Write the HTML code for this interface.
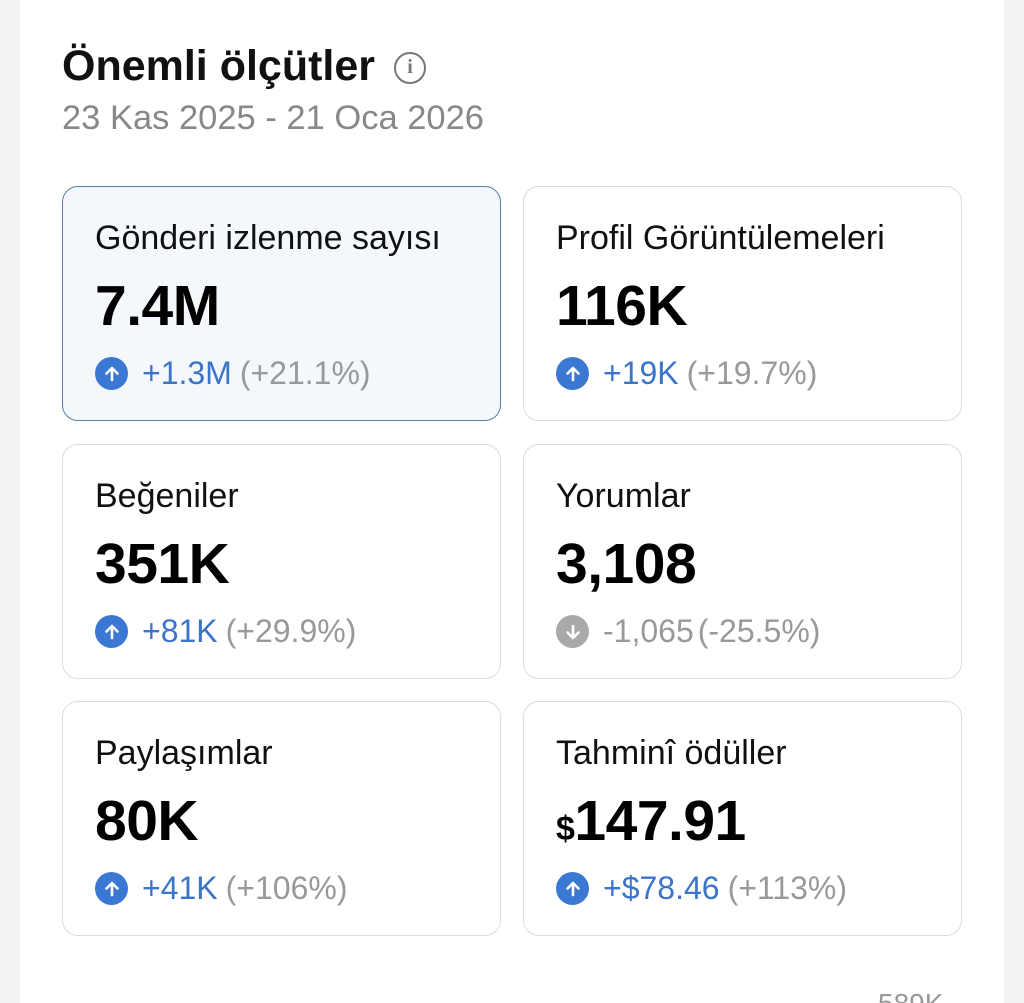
<!DOCTYPE html>
<html><head><meta charset="utf-8"><style>
*{margin:0;padding:0;box-sizing:border-box}
html,body{width:1024px;height:1003px;overflow:hidden}
body{background:#f2f2f2;font-family:"Liberation Sans",sans-serif;position:relative}
.panel{position:absolute;left:20px;top:0;width:984px;height:1003px;background:#fff}
.t{position:absolute;white-space:nowrap}
.card{position:absolute;width:439px;height:235px;border:1.5px solid #dcdcdc;border-radius:16px;background:#fff}
.card.sel{background:#f4f8fd;border-color:#5b7ea3}
.lab{position:absolute;left:32px;top:32px;font-size:34px;color:#111}
.val{position:absolute;left:32px;top:86px;font-size:57px;font-weight:bold;color:#000;letter-spacing:-0.5px}
.dl{position:absolute;left:32px;top:168px;font-size:32px;color:#3b74c9;display:flex;align-items:center}
.ic{width:33px;height:33px;border-radius:50%;background:#3a78d4;margin-right:14px;display:flex;align-items:center;justify-content:center}
.ic.g{background:#a9a9a9}
.dl .p{color:#999;margin-left:8px}
.dl.gr{color:#999}
</style></head><body>
<div class="panel"></div>
<div class="t" style="left:62px;top:42px;font-size:43px;font-weight:bold;color:#111">Önemli ölçütler</div>
<div class="t" style="left:394px;top:52px;width:32px;height:32px;border:2.5px solid #777;border-radius:50%;color:#777;font-size:20px;font-weight:bold;text-align:center;line-height:27px;font-family:'Liberation Serif',serif">i</div>
<div class="t" style="left:62px;top:99px;font-size:34.5px;color:#888">23 Kas 2025 - 21 Oca 2026</div>

<div class="card sel" style="left:62px;top:186px"><div class="lab">Gönderi izlenme sayısı</div><div class="val">7.4M</div><div class="dl"><div class="ic"><svg width="18" height="18" viewBox="0 0 18 18"><path d="M9 15V3M3.5 8.5L9 3l5.5 5.5" stroke="#fff" stroke-width="2.6" fill="none" stroke-linecap="round" stroke-linejoin="round"/></svg></div>+1.3M<span class="p">(+21.1%)</span></div></div>
<div class="card" style="left:523px;top:186px"><div class="lab">Profil Görüntülemeleri</div><div class="val">116K</div><div class="dl"><div class="ic"><svg width="18" height="18" viewBox="0 0 18 18"><path d="M9 15V3M3.5 8.5L9 3l5.5 5.5" stroke="#fff" stroke-width="2.6" fill="none" stroke-linecap="round" stroke-linejoin="round"/></svg></div>+19K<span class="p">(+19.7%)</span></div></div>
<div class="card" style="left:62px;top:444px"><div class="lab">Beğeniler</div><div class="val">351K</div><div class="dl"><div class="ic"><svg width="18" height="18" viewBox="0 0 18 18"><path d="M9 15V3M3.5 8.5L9 3l5.5 5.5" stroke="#fff" stroke-width="2.6" fill="none" stroke-linecap="round" stroke-linejoin="round"/></svg></div>+81K<span class="p">(+29.9%)</span></div></div>
<div class="card" style="left:523px;top:444px"><div class="lab">Yorumlar</div><div class="val">3,108</div><div class="dl gr"><div class="ic g"><svg width="18" height="18" viewBox="0 0 18 18"><path d="M9 3v12M3.5 9.5L9 15l5.5-5.5" stroke="#fff" stroke-width="2.6" fill="none" stroke-linecap="round" stroke-linejoin="round"/></svg></div>-1,065<span class="p" style="margin-left:4px">(-25.5%)</span></div></div>
<div class="card" style="left:62px;top:701px"><div class="lab">Paylaşımlar</div><div class="val">80K</div><div class="dl"><div class="ic"><svg width="18" height="18" viewBox="0 0 18 18"><path d="M9 15V3M3.5 8.5L9 3l5.5 5.5" stroke="#fff" stroke-width="2.6" fill="none" stroke-linecap="round" stroke-linejoin="round"/></svg></div>+41K<span class="p">(+106%)</span></div></div>
<div class="card" style="left:523px;top:701px"><div class="lab">Tahminî ödüller</div><div class="val"><span style="font-size:34px">$</span>147.91</div><div class="dl"><div class="ic"><svg width="18" height="18" viewBox="0 0 18 18"><path d="M9 15V3M3.5 8.5L9 3l5.5 5.5" stroke="#fff" stroke-width="2.6" fill="none" stroke-linecap="round" stroke-linejoin="round"/></svg></div>+$78.46<span class="p">(+113%)</span></div></div>
<div class="t" style="left:878px;top:988px;font-size:28px;color:#999">589K</div>
</body></html>
